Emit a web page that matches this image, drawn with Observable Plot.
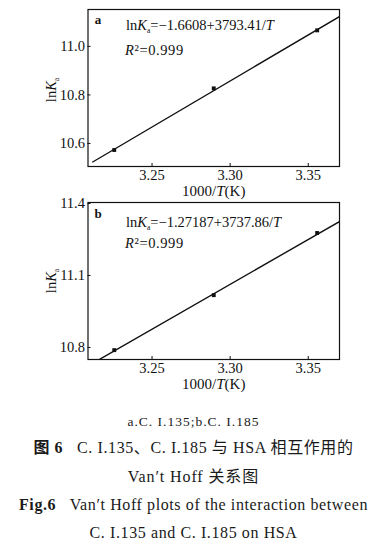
<!DOCTYPE html>
<html><head><meta charset="utf-8">
<script src="https://cdn.jsdelivr.net/npm/d3@7"></script>
<script src="https://cdn.jsdelivr.net/npm/@observablehq/plot@0.6"></script>
<style>
body{margin:0;background:#fff;}
#wrap{position:relative;width:387px;height:550px;font-family:"Liberation Serif","Times New Roman","Noto Sans CJK SC",serif;color:#1a1a1a;}
#wrap svg{position:absolute;left:0;display:block;}
.cap{position:absolute;left:0;width:387px;text-align:center;white-space:pre;line-height:20px;}
.b{font-weight:bold;}
</style></head><body><div id="wrap"></div>
<script>
// ---- data ----
const invT = [3.2258, 3.2895, 3.3557];          // 1000/T (K)
const lnKaA = [10.573, 10.827, 11.066];         // panel a: C. I.135
const lnKaB = [10.789, 11.018, 11.277];         // panel b: C. I.185
const fitA = [-1.6608, 3.79341];                // lnKa = -1.6608 + 3793.41/T
const fitB = [-1.27187, 3.73786];               // lnKa = -1.27187 + 3737.86/T
const fitRange = [3.212, 3.370];
const xTicks = [3.25, 3.30, 3.35];
const yTicksA = [10.6, 10.8, 11.0];
const yTicksB = [10.8, 11.1, 11.4];
const xDomain = [3.209, 3.370];
const yDomainA = [10.505, 11.152];
const yDomainB = [10.75, 11.404];
const letters = ["a", "b"];
const eqA = "lnKa=−1.6608+3793.41/T";
const eqB = "lnKa=−1.27187+3737.86/T";
const r2 = "R²=0.999";
const xLabel = "1000/T(K)";
const yLabel = "lnKa";

const NS = "http://www.w3.org/2000/svg";
function rich(el, segs){
  while (el.firstChild) el.removeChild(el.firstChild);
  let shift = 0;
  segs.forEach(s => {
    const t = document.createElementNS(NS, "tspan");
    t.textContent = s.t;
    if (s.i) t.setAttribute("font-style", "italic");
    const want = s.sub ? 3 : 0;
    if (want !== shift) { t.setAttribute("dy", want - shift); shift = want; }
    if (s.sub) t.setAttribute("font-size", "7.5");
    el.appendChild(t);
  });
}
function kaSegs(eq){
  const body = eq.slice(4, eq.length - 2);
  return [{t:"ln"},{t:"K",i:true},{t:"a",sub:true},{t:body+"/"},{t:"T",i:true}];
}

function panel({letter, ys, fit, eq, yDomain, yTicks, height, mt, mb, top, eqDy, lDy, yLabDy}){
  const ml = 87.5, mr = 48;
  const innerH = height - mt - mb, innerW = 387 - ml - mr;
  const lineData = fitRange.map(x => ({x, y: fit[0] + fit[1]*x}));
  const pts = invT.map((x,i) => ({x, y: ys[i]}));
  const svg = Plot.plot({
    width: 387, height,
    marginLeft: ml, marginRight: mr, marginTop: mt, marginBottom: mb,
    style: {fontFamily: "'Liberation Serif', 'Times New Roman', serif", fontSize: "14.5px", color: "#111", background: "transparent", overflow: "visible"},
    x: {domain: xDomain},
    y: {domain: yDomain},
    marks: [
      Plot.axisX(xTicks, {tickSize: 0, tickPadding: 3.5, tickFormat: d => d.toFixed(2), label: null, fontSize: 14.5}),
      Plot.axisY(yTicks, {tickSize: 0, tickPadding: 3, tickFormat: d => d.toFixed(1), label: null, fontSize: 14.5}),
      Plot.ruleX(xTicks, {x: d => d, insetTop: innerH - 3, stroke: "#111"}),
      Plot.ruleY(yTicks, {y: d => d, insetRight: innerW - 3, stroke: "#111"}),
      Plot.line(lineData, {x: "x", y: "y", stroke: "#111", strokeWidth: 1.4, clip: true}),
      Plot.dot(pts, {x: "x", y: "y", symbol: "square", r: 2.2, fill: "#111"}),
      Plot.frame({stroke: "#111", strokeWidth: 1.2}),
      Plot.text([letter], {frameAnchor: "top-left", dx: 10, dy: lDy, fontWeight: "bold", fontSize: 13, textAnchor: "middle", lineAnchor: "middle"}),
      Plot.text([eq], {frameAnchor: "top-left", dx: 38, dy: eqDy, textAnchor: "start", lineAnchor: "middle", fontSize: 14.5}),
      Plot.text([r2], {frameAnchor: "top-left", dx: 37, dy: 41, textAnchor: "start", lineAnchor: "middle", fontSize: 14.5}),
      Plot.text([xLabel], {frameAnchor: "bottom", dy: 25, textAnchor: "middle", lineAnchor: "middle", fontSize: 15}),
      Plot.text([yLabel], {frameAnchor: "left", dx: -37, dy: yLabDy, rotate: -90, textAnchor: "middle", lineAnchor: "middle", fontSize: 14.5})
    ]
  });
  svg.style.top = top + "px";
  svg.querySelectorAll("text").forEach(el => {
    const s = el.textContent;
    if (s === eq) rich(el, kaSegs(eq));
    else if (s === r2) { rich(el, [{t:"R", i:true}, {t:"²=0.999"}]); el.setAttribute("letter-spacing", "0.6"); }
    else if (s === xLabel) rich(el, [{t:"1000/"}, {t:"T", i:true}, {t:"(K)"}]);
    else if (s === yLabel) rich(el, [{t:"ln"}, {t:"K", i:true}, {t:"a", sub:true}]);
  });
  return svg;
}

const wrap = document.getElementById("wrap");
wrap.appendChild(panel({letter: letters[0], ys: lnKaA, fit: fitA, eq: eqA, yDomain: yDomainA, yTicks: yTicksA,
  height: 192, mt: 9, mb: 26, top: 0, eqDy: 15.5, lDy: 10.3, yLabDy: 2}));
wrap.appendChild(panel({letter: letters[1], ys: lnKaB, fit: fitB, eq: eqB, yDomain: yDomainB, yTicks: yTicksB,
  height: 200, mt: 10, mb: 33, top: 192, eqDy: 19.5, lDy: 11, yLabDy: 0}));

const captions = [
  {y: 422, size: 13.5, ls: 1.0, html: "a.C. I.135;b.C. I.185"},
  {y: 448, size: 16, ls: 0.6, html: "<span class='b'>图 6</span>   C. I.135、C. I.185 与 HSA 相互作用的"},
  {y: 477, size: 16, ls: 0.9, html: "Van′t Hoff 关系图"},
  {y: 505, size: 16, ls: 0.6, html: "<span class='b'>Fig.6</span>   Van′t Hoff plots of the interaction between"},
  {y: 533, size: 16, ls: 0.6, html: "C. I.135 and C. I.185 on HSA"}
];
captions.forEach(c => {
  const d = document.createElement("div");
  d.className = "cap";
  d.style.top = (c.y - 10) + "px";
  d.style.fontSize = c.size + "px";
  d.style.letterSpacing = c.ls + "px";
  d.innerHTML = c.html;
  wrap.appendChild(d);
});
</script></body></html>
